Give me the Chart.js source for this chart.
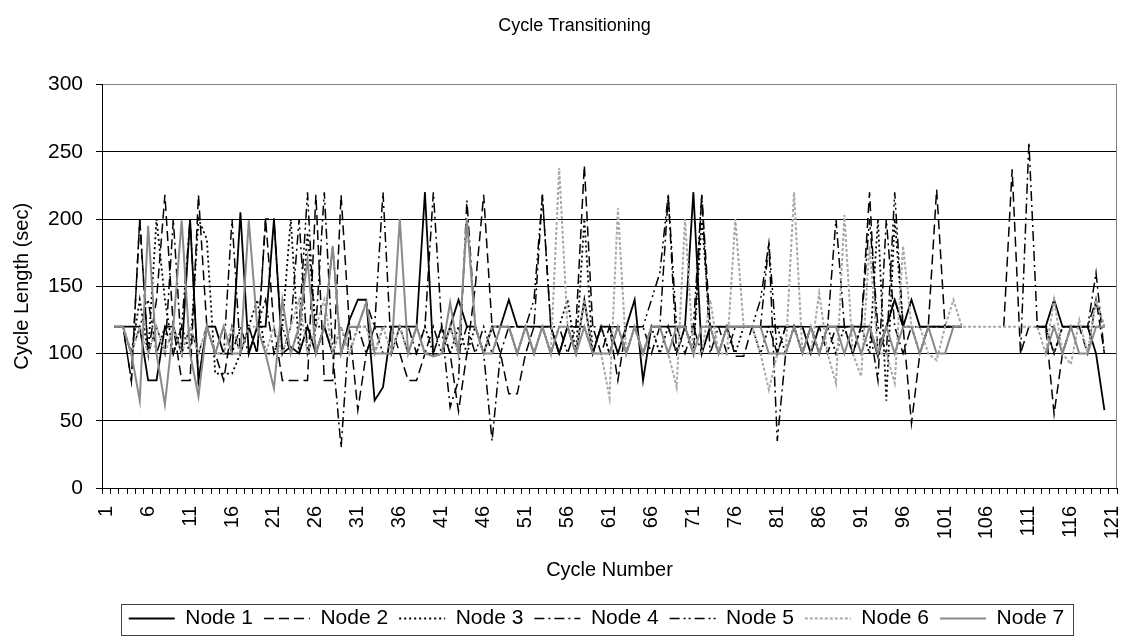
<!DOCTYPE html>
<html>
<head>
<meta charset="utf-8">
<script src="https://cdn.jsdelivr.net/npm/chart.js@4.4.0/dist/chart.umd.min.js"></script>
<style>
html, body { margin: 0; padding: 0; background: #fff; }
</style>
</head>
<body>
<canvas id="canvas" width="1127" height="636"></canvas>
<script>
// cycle numbers 1..121 on the category axis
var cycles = [];
for (var c = 1; c <= 121; c++) cycles.push(String(c));

var yTicks = [0, 50, 100, 150, 200, 250, 300];

var node1 = [
    null, 120, 120, 120, 120, 80, 80, 120, 120, 100,
    200, 80, 120, 120, 100, 100, 205, 100, 120, 120,
    200, 100, 105, 100, 120, 100, 120, 100, 100, 125,
    140, 140, 65, 75, 120, 120, 120, 120, 220, 98,
    100, 120, 140, 120, 120, 100, 120, 120, 140, 120,
    120, 120, 120, 120, 100, 120, 100, 140, 100, 120,
    120, 100, 120, 140, 80, 120, 120, 120, 120, 120,
    220, 100, 120, 120, 120, 120, 120, 120, 120, 120,
    120, 120, 120, 120, 100, 120, 120, 120, 120, 120,
    120, 120, 98, 120, 140, 120, 140, 120, 120, 120,
    120, 120, 120, null, null, null, null, null, null, null,
    null, 120, 120, 140, 120, 120, 120, 120, 100, 58,
    null
];
var node2 = [
    null, 120, 120, 80, 200, 100, 140, 218, 120, 80,
    80, 218, 120, 100, 80, 120, 100, 120, 100, 200,
    120, 80, 80, 80, 80, 218, 80, 80, 218, 120,
    58, 100, 120, 120, 120, 100, 80, 80, 100, 100,
    120, 100, 57, 100, 150, 218, 120, 100, 70, 70,
    100, 120, 120, 120, 100, 120, 120, 240, 120, 100,
    120, 80, 120, 120, 100, 120, 120, 120, 100, 120,
    100, 218, 120, 100, 120, 98, 98, 120, 120, 120,
    100, 120, 120, 100, 120, 120, 100, 120, 120, 100,
    120, 220, 100, 120, 140, 120, 48, 100, 120, 222,
    120, 120, 120, null, null, null, null, 120, 237, 100,
    120, 120, 120, 55, 100, 120, 120, 100, 140, 100,
    null
];
var node3 = [
    null, 120, 120, 100, 140, 100, 200, 140, 100, 120,
    100, 200, 185, 85, 85, 85, 100, 120, 140, 100,
    100, 120, 200, 100, 190, 120, 120, 100, 120, 100,
    120, 120, 100, 120, 120, 120, 100, 100, 120, 100,
    120, 100, 120, 100, 120, 100, 120, 120, 120, 100,
    120, 100, 120, 100, 120, 140, 100, 200, 100, 120,
    100, 120, 100, 120, 100, 120, 100, 120, 100, 120,
    100, 200, 120, 100, 120, 100, 120, 120, 100, 120,
    120, 100, 120, 100, 120, 100, 120, 100, 120, 100,
    120, 100, 200, 65, 200, 120, 120, 100, 120, 120,
    120, 120, 120, null, null, null, null, null, null, null,
    null, 120, 120, 100, 120, 120, 120, 120, 120, 120,
    null
];
var node4 = [
    null, 120, 120, 80, 200, 100, 120, 100, 200, 100,
    120, 100, 120, 100, 100, 200, 100, 120, 100, 200,
    200, 100, 120, 200, 100, 120, 220, 100, 30, 120,
    120, 100, 120, 220, 100, 120, 120, 100, 120, 220,
    120, 60, 80, 214, 120, 100, 35, 100, 120, 120,
    120, 120, 218, 120, 100, 120, 120, 120, 100, 120,
    120, 120, 100, 120, 120, 100, 120, 218, 100, 120,
    120, 100, 120, 120, 100, 120, 120, 120, 120, 182,
    35, 100, 120, 100, 120, 100, 120, 200, 120, 100,
    120, 120, 80, 200, 120, 100, 120, 120, 120, 120,
    120, 120, 120, null, null, null, null, null, null, 100,
    257, 120, 120, 100, 120, 120, 120, 120, 160, 100,
    null
];
var node5 = [
    null, 120, 120, 100, 120, 140, 100, 120, 100, 120,
    200, 80, 120, 100, 120, 100, 120, 100, 120, 140,
    100, 120, 100, 120, 220, 100, 120, 180, 100, 120,
    120, 138, 120, 100, 100, 120, 100, 120, 100, 120,
    100, 120, 100, 120, 100, 120, 100, 120, 120, 120,
    120, 140, 218, 120, 120, 100, 120, 120, 120, 120,
    100, 120, 120, 120, 120, 140, 160, 218, 120, 100,
    120, 218, 100, 120, 120, 120, 120, 120, 140, 182,
    100, 120, 120, 120, 120, 100, 120, 120, 120, 120,
    120, 200, 120, 100, 220, 120, 120, 120, 120, 120,
    120, 120, 120, null, null, null, null, null, null, null,
    null, 120, 120, 120, 100, 120, 120, 120, 140, 120,
    null
];
var node6 = [
    null, 120, 120, 100, 120, 100, 120, 100, 120, 100,
    120, 100, 120, 100, 100, 120, 100, 120, 120, 100,
    120, 100, 120, 140, 100, 120, 140, 100, 120, 100,
    120, 120, 100, 120, 100, 120, 100, 120, 100, 98,
    100, 120, 100, 200, 120, 100, 120, 120, 120, 100,
    120, 100, 120, 100, 238, 120, 100, 140, 100, 100,
    67, 208, 100, 120, 100, 120, 120, 100, 75, 200,
    100, 100, 140, 100, 100, 200, 120, 120, 100, 73,
    100, 100, 220, 100, 100, 145, 100, 78, 203, 100,
    83, 180, 100, 100, 78, 180, 120, 120, 100, 95,
    120, 140, 120, 120, 120, 120, 120, 120, 120, 120,
    120, 120, 100, 140, 100, 92, 125, 100, 140, 120,
    null
];
var node7 = [
    null, 120, 120, 100, 65, 195, 100, 62, 120, 199,
    100, 68, 120, 100, 120, 100, 100, 199, 120, 100,
    74, 140, 100, 120, 170, 100, 120, 180, 100, 120,
    120, 138, 100, 100, 100, 200, 100, 120, 100, 98,
    100, 138, 100, 200, 120, 100, 100, 120, 120, 100,
    120, 100, 120, 100, 120, 120, 100, 120, 100, 100,
    100, 120, 100, 120, 100, 120, 120, 100, 120, 120,
    100, 120, 120, 100, 120, 120, 120, 120, 120, 100,
    100, 100, 120, 100, 120, 100, 120, 120, 100, 120,
    100, 120, 100, 120, 100, 120, 120, 100, 120, 100,
    100, 120, 120, null, null, null, null, null, null, null,
    null, null, 100, 120, 100, 120, 100, 100, 120, 120,
    null
];

var seriesNames = ['Node 1', 'Node 2', 'Node 3', 'Node 4', 'Node 5', 'Node 6', 'Node 7'];
var seriesData = [node1, node2, node3, node4, node5, node6, node7];
var seriesColor = ['#000', '#000', '#000', '#000', '#000', '#a8a8a8', '#8a8a8a'];
var seriesWidth = [1.8, 1.5, 1.8, 1.5, 1.5, 2, 2];
var seriesDash = [[], [10, 5], [2, 3], [10, 4, 2, 4], [10, 4, 2, 3, 2, 4], [3, 2], []];

var LEGEND_SHIFT = 38;
var LEGEND_DROP = 3;
var TITLE_SHIFT = 16;

Chart.defaults.font.family = '"Liberation Sans", Arial, sans-serif';
Chart.defaults.color = '#000';

var frame = {
    id: 'frame',
    afterLayout: function(chart) {
        chart.legend.left += LEGEND_SHIFT;
        chart.legend.right += LEGEND_SHIFT;
        chart.legend.top += LEGEND_DROP;
        chart.legend.bottom += LEGEND_DROP;
        chart.titleBlock.left += TITLE_SHIFT;
        chart.titleBlock.right += TITLE_SHIFT;
    },
    beforeDatasetsDraw: function(chart) {
        var a = chart.chartArea, ctx = chart.ctx;
        ctx.save();
        ctx.strokeStyle = '#808080';
        ctx.lineWidth = 1;
        ctx.beginPath();
        ctx.moveTo(Math.round(a.right) - 0.5, a.top);
        ctx.lineTo(Math.round(a.right) - 0.5, a.bottom);
        ctx.stroke();
        ctx.restore();
    },
    afterDraw: function(chart) {
        var lg = chart.legend, ctx = chart.ctx;
        var pad = lg.options.labels.padding;
        var rowW = lg.lineWidths[0];
        var start = (lg.left + pad + lg.right - rowW) / 2;
        var end = start + rowW - pad;
        var mid = lg.top + pad + 10.5;
        ctx.save();
        ctx.strokeStyle = '#404040';
        ctx.lineWidth = 1;
        ctx.strokeRect(Math.round(start - 8) + 0.5, Math.round(mid - 15) + 0.5,
            Math.round(end - start + 16), 31);
        ctx.restore();
    }
};

var datasets = seriesNames.map(function(name, i) {
    return {
        label: name,
        data: seriesData[i],
        borderColor: seriesColor[i],
        backgroundColor: seriesColor[i],
        borderWidth: seriesWidth[i],
        borderDash: seriesDash[i],
        pointRadius: 0,
        tension: 0,
        fill: false,
        spanGaps: false,
        order: 6 - i
    };
});

window.onload = function() {
    var ctx = document.getElementById('canvas').getContext('2d');
    window.myLine = new Chart(ctx, {
        type: 'line',
        data: { labels: cycles, datasets: datasets },
        plugins: [frame],
        options: {
            responsive: false,
            animation: false,
            layout: { padding: { left: 0, right: 10, top: 0, bottom: 0 } },
            plugins: {
                title: {
                    display: true,
                    text: 'Cycle Transitioning',
                    color: '#000',
                    font: { size: 18, weight: 'normal' },
                    padding: { top: 15, bottom: 48 }
                },
                legend: {
                    position: 'bottom',
                    labels: {
                        usePointStyle: true,
                        pointStyle: 'line',
                        pointStyleWidth: 46,
                        font: { size: 21 },
                        padding: 11,
                        color: '#000',
                        sort: function(a, b) { return a.datasetIndex - b.datasetIndex; },
                        generateLabels: function(chart) {
                            var items = Chart.defaults.plugins.legend.labels.generateLabels(chart);
                            items.forEach(function(it) {
                                var ds = chart.data.datasets[it.datasetIndex];
                                it.lineDash = ds.borderDash;
                                it.lineWidth = ds.borderWidth;
                                it.strokeStyle = ds.borderColor;
                                it.pointStyle = 'line';
                            });
                            return items;
                        }
                    }
                },
                tooltip: { enabled: false }
            },
            scales: {
                x: {
                    offset: true,
                    grid: {
                        offset: true,
                        drawOnChartArea: false,
                        drawTicks: true,
                        tickLength: 6,
                        color: '#000'
                    },
                    border: { color: '#000', width: 1 },
                    ticks: {
                        autoSkip: false,
                        maxRotation: 90,
                        minRotation: 90,
                        padding: 12,
                        font: { size: 20 },
                        color: '#000',
                        callback: function(val, idx) {
                            return idx % 5 === 0 ? this.getLabelForValue(val) : '';
                        }
                    },
                    title: {
                        display: true,
                        text: 'Cycle Number',
                        font: { size: 20 },
                        color: '#000',
                        padding: { top: 0, bottom: 12 }
                    },
                    afterFit: function(scale) {
                        scale.height = 106;
                        scale.paddingLeft = 0;
                        scale.paddingRight = 0;
                    }
                },
                y: {
                    min: yTicks[0],
                    max: yTicks[yTicks.length - 1],
                    afterBuildTicks: function(scale) {
                        scale.ticks = yTicks.map(function(v) { return { value: v }; });
                    },
                    grid: {
                        color: function(c) { return c.tick && c.tick.value === 300 ? '#808080' : '#000'; },
                        tickColor: '#000',
                        tickLength: 6,
                        lineWidth: 1
                    },
                    border: { color: '#000', width: 1 },
                    ticks: {
                        padding: 13,
                        font: { size: 21 },
                        color: '#000'
                    },
                    title: {
                        display: true,
                        text: 'Cycle Length (sec)',
                        font: { size: 20 },
                        color: '#000',
                        padding: { top: 10, bottom: 0 }
                    },
                    afterFit: function(scale) {
                        scale.width = 102;
                        scale.paddingTop = 0;
                        scale.paddingBottom = 0;
                    }
                }
            }
        }
    });
};
</script>
</body>
</html>
